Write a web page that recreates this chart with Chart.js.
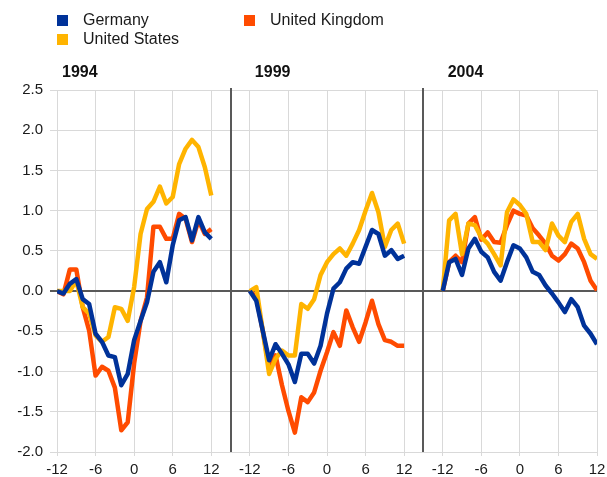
<!DOCTYPE html>
<html>
<head>
<meta charset="utf-8">
<script src="https://cdn.jsdelivr.net/npm/chart.js@4/dist/chart.umd.min.js"></script>
<style>
  body { margin: 0; background: #fff; }
  #wrap { position: relative; width: 607px; height: 477px; }
  .leg { position: absolute; font: 16px "Liberation Sans", Arial, sans-serif; color: #1a1a1a; line-height: 18px; }
  .leg span { position: absolute; left: 0; top: 4px; width: 11px; height: 11px; }
  .leg div { position: absolute; left: 26px; top: 0; white-space: nowrap; }
</style>
</head>
<body>
<div id="wrap">
  <canvas id="grafik" width="607" height="477"></canvas>
  <div class="leg" style="left:57px;top:11px"><span style="background:#003299"></span><div>Germany</div></div>
  <div class="leg" style="left:244px;top:11px"><span style="background:#FF4B00"></span><div>United Kingdom</div></div>
  <div class="leg" style="left:57px;top:30px"><span style="background:#FFB400"></span><div>United States</div></div>
</div>
<script>
// bulan relatif terhadap puncak siklus
const bulan = [-12, -11, -10, -9, -8, -7, -6, -5, -4, -3, -2, -1, 0, 1, 2, 3, 4, 5, 6, 7, 8, 9, 10, 11, 12];
const tahun = ["1994", "1999", "2004"];
const yTicks = [-2.0, -1.5, -1.0, -0.5, 0.0, 0.5, 1.0, 1.5, 2.0, 2.5];

const germany1994 = [0, -0.03, 0.09, 0.15, -0.1, -0.16, -0.53, -0.63, -0.8, -0.82, -1.17, -1.03, -0.61, -0.37, -0.14, 0.24, 0.36, 0.11, 0.57, 0.88, 0.92, 0.63, 0.92, 0.73, 0.65];
const germany1999 = [0, -0.12, -0.49, -0.86, -0.66, -0.78, -0.91, -1.13, -0.78, -0.78, -0.9, -0.68, -0.28, 0.03, 0.11, 0.28, 0.36, 0.34, 0.55, 0.76, 0.71, 0.44, 0.51, 0.4, 0.44];
const germany2004 = [0, 0.36, 0.4, 0.2, 0.53, 0.65, 0.49, 0.42, 0.24, 0.13, 0.36, 0.57, 0.53, 0.42, 0.24, 0.2, 0.07, -0.03, -0.14, -0.26, -0.1, -0.2, -0.43, -0.53, -0.66];

const uk1994 = [0, -0.04, 0.27, 0.27, -0.2, -0.49, -1.05, -0.94, -0.99, -1.2, -1.73, -1.63, -0.9, -0.37, -0.08, 0.8, 0.8, 0.65, 0.65, 0.96, 0.9, 0.61, 0.88, 0.71, 0.77];
const uk1999 = [0, -0.07, -0.49, -0.95, -0.8, -1.17, -1.49, -1.76, -1.32, -1.38, -1.26, -0.99, -0.76, -0.51, -0.68, -0.24, -0.45, -0.63, -0.39, -0.12, -0.41, -0.61, -0.63, -0.68, -0.68];
const uk2004 = [0, 0.36, 0.44, 0.36, 0.84, 0.92, 0.64, 0.73, 0.61, 0.6, 0.82, 1.0, 0.96, 0.94, 0.78, 0.69, 0.59, 0.44, 0.38, 0.46, 0.59, 0.53, 0.36, 0.13, 0.01];

const us1994 = [0, 0, 0, 0.13, -0.2, -0.28, -0.55, -0.63, -0.57, -0.2, -0.22, -0.37, 0.05, 0.71, 1.02, 1.11, 1.3, 1.09, 1.17, 1.58, 1.77, 1.88, 1.79, 1.54, 1.19];
const us1999 = [0, 0.05, -0.49, -1.03, -0.84, -0.74, -0.8, -0.8, -0.16, -0.22, -0.1, 0.2, 0.36, 0.46, 0.53, 0.44, 0.59, 0.76, 1.0, 1.22, 0.98, 0.55, 0.76, 0.84, 0.59];
const us2004 = [0, 0.88, 0.96, 0.46, 0.84, 0.82, 0.67, 0.59, 0.46, 0.32, 0.98, 1.14, 1.07, 0.96, 0.61, 0.61, 0.51, 0.84, 0.69, 0.61, 0.86, 0.96, 0.65, 0.46, 0.4];

const jarakPanel = 30; // 25 bulan + 5 kosong

function gabung(panels) {
  const out = [];
  panels.forEach((arr, p) => {
    if (p > 0) out.push({ x: p * jarakPanel - 3, y: null });
    arr.forEach((v, i) => out.push({ x: p * jarakPanel + i, y: v }));
  });
  return out;
}

const panelPlugin = {
  id: 'panel',
  afterDraw(chart) {
    const { ctx, chartArea, scales } = chart;
    ctx.save();
    ctx.strokeStyle = '#595959';
    ctx.lineWidth = 2;
    [27, 57].forEach(v => {
      const x = Math.round(scales.x.getPixelForValue(v));
      ctx.beginPath();
      ctx.moveTo(x, chartArea.top - 2);
      ctx.lineTo(x, chartArea.bottom);
      ctx.stroke();
    });
    ctx.fillStyle = '#111';
    ctx.font = 'bold 16px "Liberation Sans", Arial, sans-serif';
    ctx.textBaseline = 'alphabetic';
    tahun.forEach((t, p) => {
      const x = scales.x.getPixelForValue(p * jarakPanel) + 5;
      ctx.fillText(t, x, 77);
    });
    ctx.restore();
  }
};

const ctx = document.getElementById('grafik').getContext('2d');
new Chart(ctx, {
  type: 'line',
  data: {
    datasets: [
      { label: 'Germany', data: gabung([germany1994, germany1999, germany2004]), borderColor: '#003299' },
      { label: 'United States', data: gabung([us1994, us1999, us2004]), borderColor: '#FFB400' },
      { label: 'United Kingdom', data: gabung([uk1994, uk1999, uk2004]), borderColor: '#FF4B00' }
    ]
  },
  options: {
    responsive: false,
    animation: false,
    spanGaps: false,
    elements: {
      line: { borderWidth: 4.5, tension: 0, borderJoinStyle: 'round', borderCapStyle: 'butt' },
      point: { radius: 0 }
    },
    layout: { padding: { top: 90, right: 4, left: 0, bottom: 0 } },
    plugins: { legend: { display: false }, tooltip: { enabled: false } },
    scales: {
      x: {
        type: 'linear',
        min: 0,
        max: 84,
        afterBuildTicks(scale) {
          const t = [];
          for (let p = 0; p < tahun.length; p++) {
            [0, 6, 12, 18, 24].forEach(i => t.push({ value: p * jarakPanel + i }));
          }
          scale.ticks = t;
        },
        afterFit(scale) { scale.height = 25; scale.paddingRight = 10; },
        ticks: {
          autoSkip: false,
          maxRotation: 0,
          padding: 5,
          color: '#1a1a1a',
          font: { family: '"Liberation Sans", Arial, sans-serif', size: 15 },
          callback: v => String(bulan[v % jarakPanel])
        },
        grid: { color: '#d9d9d9', lineWidth: 1, tickLength: 4 },
        border: { color: '#d9d9d9' }
      },
      y: {
        min: -2,
        max: 2.5,
        afterBuildTicks(scale) { scale.ticks = yTicks.map(v => ({ value: v })); },
        afterFit(scale) { scale.width = 57; },
        ticks: {
          padding: 7,
          color: '#1a1a1a',
          font: { family: '"Liberation Sans", Arial, sans-serif', size: 15 },
          callback: v => v.toFixed(1)
        },
        grid: {
          tickLength: 7,
          color: c => (c.tick && c.tick.value === 0 ? '#595959' : '#d9d9d9'),
          lineWidth: c => (c.tick && c.tick.value === 0 ? 2 : 1)
        },
        border: { color: '#d9d9d9' }
      }
    }
  },
  plugins: [panelPlugin]
});
</script>
</body>
</html>
